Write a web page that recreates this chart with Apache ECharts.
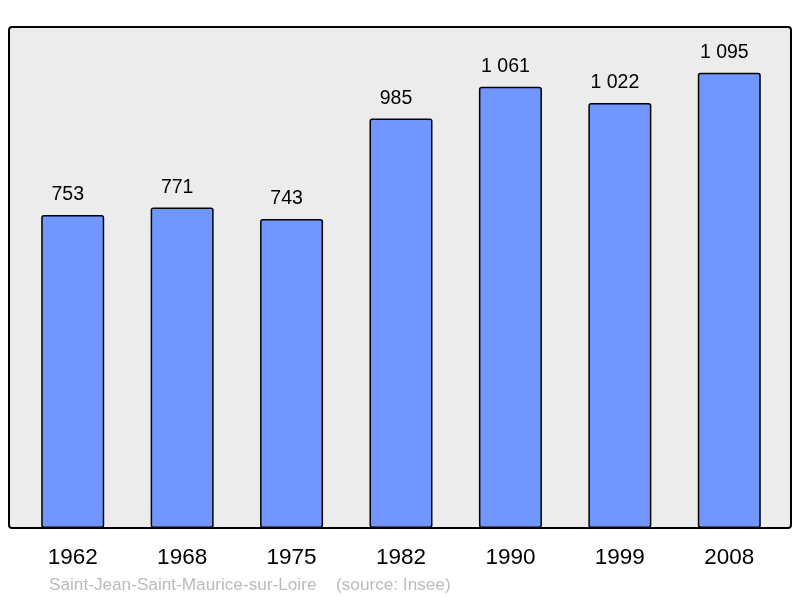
<!DOCTYPE html>
<html><head><meta charset="utf-8">
<script src="https://cdn.jsdelivr.net/npm/echarts@6/dist/echarts.min.js"></script>
<style>html,body{margin:0;padding:0;background:#fff}#c{width:800px;height:598px}</style>
</head><body><div id="c"></div>
<script>
const years = ['1962','1968','1975','1982','1990','1999','2008'];
const population = [753, 771, 743, 985, 1061, 1022, 1095];
const footerName = 'Saint-Jean-Saint-Maurice-sur-Loire';
const footerSource = '(source: Insee)';

function fmt(v){ return String(v).replace(/\B(?=(\d{3})+(?!\d))/g, ' '); }

const chart = echarts.init(document.getElementById('c'), null, {renderer:'canvas'});
chart.setOption({
  animation:false,
  backgroundColor:'#ffffff',
  textStyle:{fontFamily:'Liberation Sans, Arial, sans-serif'},
  grid:{left:18, right:16, top:27, bottom:70},
  xAxis:{type:'category', data:years, boundaryGap:true,
    axisLine:{show:false}, axisTick:{show:false},
    axisLabel:{color:'#000', fontSize:22.5, margin:18, fontFamily:'Liberation Sans, Arial, sans-serif'}},
  yAxis:{type:'value', min:0, max:1205, show:false, splitLine:{show:false}},
  graphic:[
    {type:'rect', z:0, shape:{x:9, y:27, width:782, height:501, r:3},
     style:{fill:'#ececec', stroke:'#000', lineWidth:2}},
    {type:'text', z:10, left:49, top:577, style:{text:footerName, fill:'#bbbbbb', fontSize:17.2, fontFamily:'Liberation Sans, Arial, sans-serif'}},
    {type:'text', z:10, left:336, top:577, style:{text:footerSource, fill:'#bbbbbb', fontSize:17.2, fontFamily:'Liberation Sans, Arial, sans-serif'}}
  ],
  series:[{type:'bar', data:population, barWidth:63, z:5,
    itemStyle:{color:'#7196ff', borderColor:'#000', borderWidth:1.5, borderRadius:2},
    label:{show:true, position:'top', distance:10, offset:[-5,0], color:'#000', fontSize:19.5,
      fontFamily:'Liberation Sans, Arial, sans-serif', formatter:p=>fmt(p.value)}
  }]
});
</script></body></html>
